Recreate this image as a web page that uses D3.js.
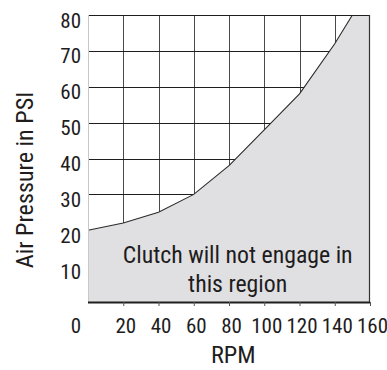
<!DOCTYPE html>
<html><head><meta charset="utf-8">
<script src="https://cdn.jsdelivr.net/npm/d3@7"></script>
<style>
html,body{margin:0;padding:0;background:#fff;}
svg text{font-family:"Liberation Sans Narrow","Roboto Condensed","DejaVu Sans Condensed",Roboto,sans-serif;fill:#1e1c1d;}
</style></head>
<body>
<svg id="chart" width="387" height="370"></svg>
<script>
const rpm = [0, 20, 40, 60, 80, 100, 120, 140, 150];
const psi = [20, 22, 25, 30, 38, 48, 58, 72, 80];
const xTicks = [20, 40, 60, 80, 100, 120, 140, 160];
const yTicks = [10, 20, 30, 40, 50, 60, 70, 80];
const regionLabel = ["Clutch will not engage in", "this region"];
const xTitle = "RPM";
const yTitle = "Air Pressure in PSI";

const svg = d3.select("#chart");
const x = d3.scaleLinear().domain([0,160]).range([88,370]);
const y = d3.scaleLinear().domain([0,80]).range([302,15]);

// fit a text element's font size so its length matches a target width
function fit(sel, target, base){
  sel.attr("font-size", base);
  const w = sel.node().getComputedTextLength();
  if (w > 0) sel.attr("font-size", base * target / w);
  return sel;
}

// grid
const g = svg.append("g");
g.selectAll(".vg").data(xTicks.filter(d=>d<160)).enter().append("line")
  .attr("x1",d=>Math.round(x(d))+0.5).attr("x2",d=>Math.round(x(d))+0.5)
  .attr("y1",y(80)).attr("y2",y(0)).attr("stroke","#4a4a4a").attr("stroke-width",1);
g.selectAll(".hg").data(yTicks.filter(d=>d<80)).enter().append("line")
  .attr("x1",x(0)).attr("x2",x(160))
  .attr("y1",d=>Math.round(y(d))+0.5).attr("y2",d=>Math.round(y(d))+0.5)
  .attr("stroke","#1e1e1e").attr("stroke-width",1);

// filled region
const pts = rpm.map((r,i)=>[r,psi[i]]);
const poly = pts.concat([[160,80],[160,0],[0,0]]);
svg.append("path")
  .attr("d", d3.line().x(d=>x(d[0])).y(d=>y(d[1]))(poly) + "Z")
  .attr("fill","#e0e0e2").attr("stroke","none");
svg.append("path")
  .attr("d", d3.line().x(d=>x(d[0])).y(d=>y(d[1]))(pts))
  .attr("fill","none").attr("stroke","#2a2a2a").attr("stroke-width",1.1);

// borders
svg.append("line").attr("x1",x(0)).attr("x2",x(160)).attr("y1",y(80)+0.5).attr("y2",y(80)+0.5).attr("stroke","#1e1e1e").attr("stroke-width",1.2);
svg.append("line").attr("x1",x(160)-0.5).attr("x2",x(160)-0.5).attr("y1",y(80)).attr("y2",y(0)).attr("stroke","#333").attr("stroke-width",1.2);
svg.append("line").attr("x1",x(0)+0.5).attr("x2",x(0)+0.5).attr("y1",y(80)).attr("y2",y(0)).attr("stroke","#c8c8c8").attr("stroke-width",1);

// x axis
const xAxis = d3.axisBottom(x).tickValues(xTicks).tickSize(4).tickFormat("");
const xa = svg.append("g").attr("transform",`translate(0,${y(0)})`).call(xAxis);
xa.select(".domain").attr("stroke","#1e1e1e").attr("stroke-width",2).attr("d",`M${x(0)},0.5H${x(160)}`);
xa.selectAll(".tick line").attr("stroke","#555");

svg.selectAll(".xl").data(xTicks).enter().append("text")
  .attr("x",d=>x(d)+2.5).attr("y",333).attr("text-anchor","middle")
  .attr("font-size",21).text(d=>d);
svg.append("text").attr("x",76).attr("y",333).attr("text-anchor","middle").attr("font-size",21).text("0");

// y labels
svg.selectAll(".yl").data(yTicks).enter().append("text")
  .attr("x",81).attr("y",d=>y(d)+12.5).attr("text-anchor","end")
  .attr("font-size",21).text(d=>d);

// region text
const r1 = svg.append("text").attr("x",237.7).attr("y",263).attr("text-anchor","middle").text(regionLabel[0]);
fit(r1, 230, 20);
svg.append("text").attr("x",237.7).attr("y",291.5).attr("text-anchor","middle")
  .attr("font-size", r1.attr("font-size")).text(regionLabel[1]);

// titles
const xt = svg.append("text").attr("x",233.3).attr("y",363).attr("text-anchor","middle").text(xTitle);
fit(xt, 44.7, 20);
const yt = svg.append("text").attr("transform","translate(33,180) rotate(-90)").attr("text-anchor","middle").text(yTitle);
fit(yt, 176.6, 20);
</script>
</body></html>
